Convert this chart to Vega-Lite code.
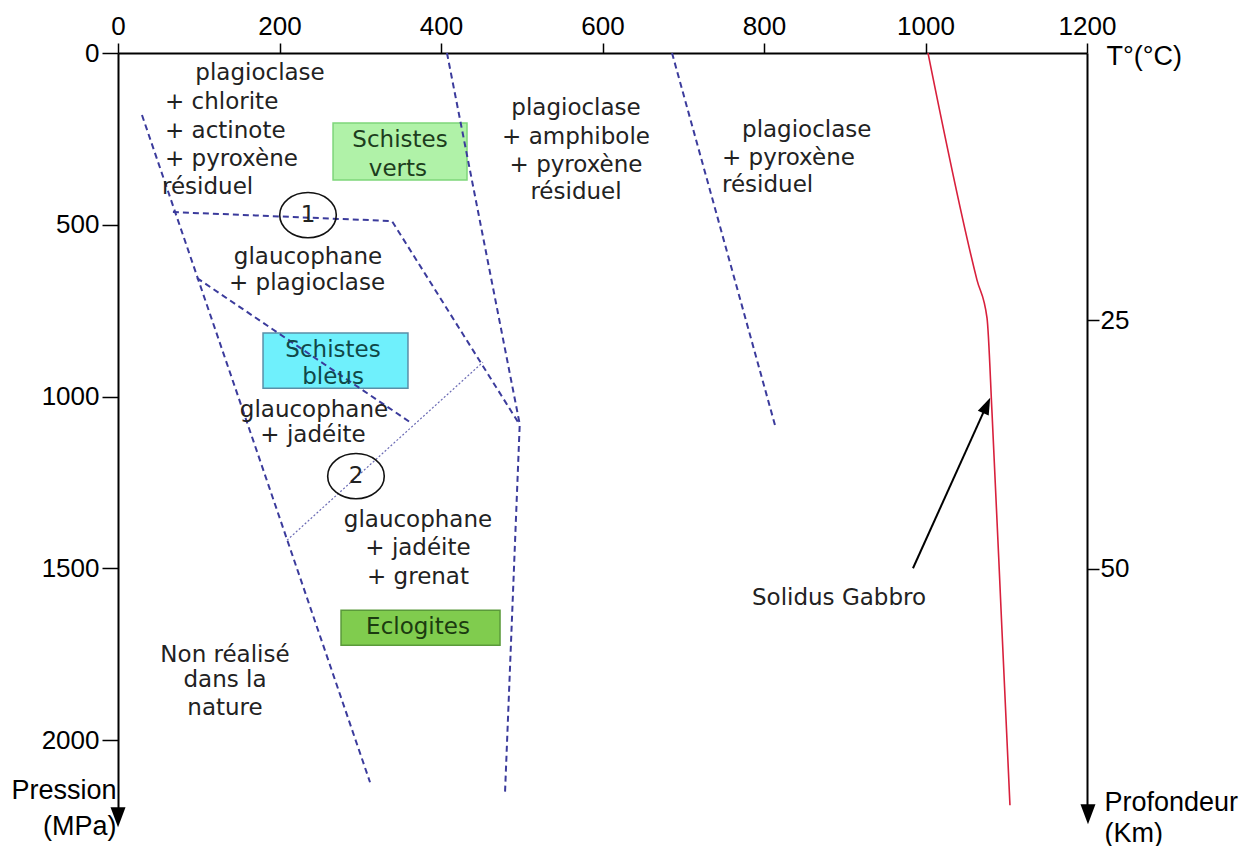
{
  "$schema": "https://vega.github.io/schema/vega-lite/v6.json",
  "width": 969,
  "height": 756,
  "autosize": "none",
  "padding": {"left": 118, "top": 53, "right": 162, "bottom": 37},
  "background": "white",
  "config": {"view": {"stroke": null}, "font": "DejaVu Sans"},
  "datasets": {
    "boxes": [
      {"name": "verts", "T1": 266.3, "T2": 432.2, "P1": 203.8, "P2": 369.7},
      {"name": "bleus", "T1": 179.6, "T2": 359.1, "P1": 815.1, "P2": 975.3},
      {"name": "eclo", "T1": 276.2, "T2": 473.1, "P1": 1621.5, "P2": 1723.4}
    ],
    "lines": [
      {"id": "L1", "o": 1, "T": 29.7, "P": 180.5},
      {"id": "L1", "o": 2, "T": 312.1, "P": 2122.3},
      {"id": "L2", "o": 1, "T": 68, "P": 462.9},
      {"id": "L2", "o": 2, "T": 339.3, "P": 489.1},
      {"id": "L2", "o": 3, "T": 497, "P": 1080},
      {"id": "L3", "o": 1, "T": 97.8, "P": 655},
      {"id": "L3", "o": 2, "T": 361.6, "P": 1074.2},
      {"id": "L4", "o": 1, "T": 209.3, "P": 1417.8},
      {"id": "L4", "o": 2, "T": 452, "P": 899.6},
      {"id": "L5", "o": 1, "T": 407.4, "P": 0},
      {"id": "L5", "o": 2, "T": 497.5, "P": 1080},
      {"id": "L5", "o": 3, "T": 479.3, "P": 2151.4},
      {"id": "L6", "o": 1, "T": 686.1, "P": 0},
      {"id": "L6", "o": 2, "T": 813.6, "P": 1083},
      {"id": "solidus", "o": 1, "T": 1003.1, "P": 0},
      {"id": "solidus", "o": 2, "T": 1063.8, "P": 660.8},
      {"id": "solidus", "o": 3, "T": 1076.2, "P": 771.5},
      {"id": "solidus", "o": 4, "T": 1082.4, "P": 1048},
      {"id": "solidus", "o": 5, "T": 1094.7, "P": 1679.8},
      {"id": "solidus", "o": 6, "T": 1104.6, "P": 2189.2},
      {"id": "arrow", "o": 1, "T": 984.5, "P": 1499.3},
      {"id": "arrow", "o": 2, "T": 1072.4, "P": 1042.2}
    ],
    "labels": [
      {"text": "plagioclase", "T": 175.9, "P": 58.2, "kind": "body", "align": "c"},
      {"text": "plagioclase", "T": 567.2, "P": 160.1, "kind": "body", "align": "c"},
      {"text": "+ amphibole", "T": 567.2, "P": 244.5, "kind": "body", "align": "c"},
      {"text": "+ pyroxène", "T": 567.2, "P": 326.1, "kind": "body", "align": "c"},
      {"text": "résiduel", "T": 567.2, "P": 404.7, "kind": "body", "align": "c"},
      {"text": "glaucophane", "T": 235.3, "P": 593.9, "kind": "body", "align": "c"},
      {"text": "+ plagioclase", "T": 234.1, "P": 669.6, "kind": "body", "align": "c"},
      {"text": "glaucophane", "T": 242.7, "P": 1039.3, "kind": "body", "align": "c"},
      {"text": "+ jadéite", "T": 241.5, "P": 1112.1, "kind": "body", "align": "c"},
      {"text": "glaucophane", "T": 371.5, "P": 1359.5, "kind": "body", "align": "c"},
      {"text": "+ jadéite", "T": 371.5, "P": 1441.0, "kind": "body", "align": "c"},
      {"text": "+ grenat", "T": 371.5, "P": 1525.5, "kind": "body", "align": "c"},
      {"text": "Non réalisé", "T": 132.5, "P": 1752.5, "kind": "body", "align": "c"},
      {"text": "dans la", "T": 132.5, "P": 1825.3, "kind": "body", "align": "c"},
      {"text": "nature", "T": 132.5, "P": 1906.8, "kind": "body", "align": "c"},
      {"text": "Solidus Gabbro", "T": 892.9, "P": 1586.6, "kind": "body", "align": "c"},
      {"text": "Schistes", "T": 349.2, "P": 253.3, "kind": "verts", "align": "c"},
      {"text": "verts", "T": 346.7, "P": 337.7, "kind": "verts", "align": "c"},
      {"text": "Schistes", "T": 266.3, "P": 864.6, "kind": "bleus", "align": "c"},
      {"text": "bleus", "T": 266.3, "P": 943.2, "kind": "bleus", "align": "c"},
      {"text": "Eclogites", "T": 371.5, "P": 1671.0, "kind": "eclo", "align": "c"},
      {"text": "1", "T": 235.3, "P": 471.6, "kind": "body", "align": "c"},
      {"text": "2", "T": 294.7, "P": 1231.4, "kind": "body", "align": "c"},
      {"text": "+ chlorite", "T": 58.2, "P": 142.6, "kind": "body", "align": "l"},
      {"text": "+ actinote", "T": 58.2, "P": 227.1, "kind": "body", "align": "l"},
      {"text": "+ pyroxène", "T": 58.2, "P": 308.6, "kind": "body", "align": "l"},
      {"text": "résiduel", "T": 54.5, "P": 390.1, "kind": "body", "align": "l"},
      {"text": "plagioclase", "T": 772.8, "P": 224.2, "kind": "body", "align": "l"},
      {"text": "+ pyroxène", "T": 748.0, "P": 305.7, "kind": "body", "align": "l"},
      {"text": "résiduel", "T": 748.0, "P": 384.3, "kind": "body", "align": "l"}
    ],
    "circles": [
      {"n": "1", "T": 235.3, "P": 471.6},
      {"n": "2", "T": 294.7, "P": 1231.4}
    ],
    "heads": [
      {"name": "axisLeft", "T": 0, "P": 2224.2},
      {"name": "axisRight", "T": 1201.2, "P": 2215.4},
      {"name": "solidus", "T": 1075.8, "P": 1025.6}
    ]
  },
  "layer": [
    {
      "data": {"name": "boxes"},
      "mark": {"type": "rect", "strokeWidth": 1.5},
      "encoding": {
        "x": {
          "field": "T1", "type": "quantitative", "scale": {"domain": [0, 1200], "nice": false, "zero": false},
          "axis": {
            "orient": "top", "values": [0, 200, 400, 600, 800, 1000, 1200], "format": "d", "grid": false,
            "domainColor": "black", "domainWidth": 2, "tickColor": "black", "tickWidth": 1.5, "tickSize": 10,
            "labelColor": "black", "labelFont": "Liberation Sans", "labelFontSize": 26, "labelPadding": 4,
            "labelFlush": false, "labelOverlap": false,
            "title": "T°(°C)", "titleFont": "Liberation Sans", "titleFontSize": 27, "titleFontWeight": "normal", "titleColor": "black",
            "titleAngle": 0, "titleAlign": "left", "titleBaseline": "alphabetic", "titleX": 988, "titleY": 11
          }
        },
        "x2": {"field": "T2"},
        "y": {
          "field": "P1", "type": "quantitative", "scale": {"domain": [0, 2200], "nice": false, "zero": false, "reverse": true},
          "axis": {
            "orient": "left", "values": [0, 500, 1000, 1500, 2000], "format": "d", "grid": false,
            "domainColor": "black", "domainWidth": 2, "tickColor": "black", "tickWidth": 1.5, "tickSize": 16,
            "labelColor": "black", "labelFont": "Liberation Sans", "labelFontSize": 26, "labelPadding": 3,
            "labelFlush": false, "labelOverlap": false,
            "title": ["Pression", "(MPa)"], "titleFont": "Liberation Sans", "titleFontSize": 27, "titleFontWeight": "normal", "titleColor": "black",
            "titleAngle": 0, "titleAlign": "right", "titleBaseline": "alphabetic", "titleX": -2, "titleY": 745, "titleLineHeight": 36
          }
        },
        "y2": {"field": "P2"},
        "fill": {"field": "name", "type": "nominal", "scale": {"domain": ["verts", "bleus", "eclo"], "range": ["#b0f2a8", "#6ff0fc", "#80cc4e"]}, "legend": null},
        "stroke": {"field": "name", "type": "nominal", "scale": {"domain": ["verts", "bleus", "eclo"], "range": ["#7ed67a", "#5a8fa8", "#5a9a3a"]}, "legend": null}
      }
    },
    {
      "data": {"name": "lines"},
      "transform": [{"filter": "indexof(['L1','L2','L3','L5','L6'], datum.id) >= 0"}],
      "mark": {"type": "line", "stroke": "#3b3b9c", "strokeWidth": 2, "strokeDash": [6, 4]},
      "encoding": {
        "x": {"field": "T", "type": "quantitative", "scale": {"domain": [0, 1200], "nice": false, "zero": false}, "axis": null},
        "y": {"field": "P", "type": "quantitative", "scale": {"domain": [0, 2200], "nice": false, "zero": false, "reverse": true}, "axis": null},
        "detail": {"field": "id"},
        "order": {"field": "o"}
      }
    },
    {
      "data": {"name": "lines"},
      "transform": [{"filter": "datum.id == 'L4'"}],
      "mark": {"type": "line", "stroke": "#6a6ab4", "strokeWidth": 1.2, "strokeDash": [2, 2]},
      "encoding": {
        "x": {"field": "T", "type": "quantitative", "scale": {"domain": [0, 1200], "nice": false, "zero": false}, "axis": null},
        "y": {"field": "P", "type": "quantitative", "scale": {"domain": [0, 2200], "nice": false, "zero": false, "reverse": true}, "axis": null},
        "order": {"field": "o"}
      }
    },
    {
      "data": {"name": "lines"},
      "transform": [{"filter": "datum.id == 'solidus'"}],
      "mark": {"type": "line", "stroke": "#d8203c", "strokeWidth": 1.6, "interpolate": "monotone"},
      "encoding": {
        "x": {"field": "T", "type": "quantitative", "scale": {"domain": [0, 1200], "nice": false, "zero": false}, "axis": null},
        "y": {"field": "P", "type": "quantitative", "scale": {"domain": [0, 2200], "nice": false, "zero": false, "reverse": true}, "axis": null},
        "order": {"field": "o"}
      }
    },
    {
      "data": {"name": "lines"},
      "transform": [{"filter": "datum.id == 'arrow'"}],
      "mark": {"type": "line", "stroke": "black", "strokeWidth": 2},
      "encoding": {
        "x": {"field": "T", "type": "quantitative", "scale": {"domain": [0, 1200], "nice": false, "zero": false}, "axis": null},
        "y": {"field": "P", "type": "quantitative", "scale": {"domain": [0, 2200], "nice": false, "zero": false, "reverse": true}, "axis": null},
        "order": {"field": "o"}
      }
    },
    {
      "data": {"name": "heads"},
      "transform": [{"filter": "datum.name != 'solidus'"}],
      "mark": {"type": "point", "shape": "M-0.75,-1L0.75,-1L0,1Z", "size": 400, "filled": true, "fill": "black", "opacity": 1, "strokeWidth": 0},
      "encoding": {
        "x": {"field": "T", "type": "quantitative", "scale": {"domain": [0, 1200], "nice": false, "zero": false}, "axis": null},
        "y": {"field": "P", "type": "quantitative", "scale": {"domain": [0, 2200], "nice": false, "zero": false, "reverse": true}, "axis": null}
      }
    },
    {
      "data": {"name": "heads"},
      "transform": [{"filter": "datum.name == 'solidus'"}],
      "mark": {"type": "point", "shape": "M0,-1L0.7,1L-0.7,1Z", "size": 289, "angle": 24, "filled": true, "fill": "black", "opacity": 1, "strokeWidth": 0},
      "encoding": {
        "x": {"field": "T", "type": "quantitative", "scale": {"domain": [0, 1200], "nice": false, "zero": false}, "axis": null},
        "y": {"field": "P", "type": "quantitative", "scale": {"domain": [0, 2200], "nice": false, "zero": false, "reverse": true}, "axis": null}
      }
    },
    {
      "data": {"name": "circles"},
      "mark": {"type": "point", "shape": "M-1,0A1,0.8,0,1,1,1,0A1,0.8,0,1,1,-1,0Z", "size": 3200, "filled": false, "stroke": "#111111", "strokeWidth": 1.6, "opacity": 1},
      "encoding": {
        "x": {"field": "T", "type": "quantitative", "scale": {"domain": [0, 1200], "nice": false, "zero": false}, "axis": null},
        "y": {"field": "P", "type": "quantitative", "scale": {"domain": [0, 2200], "nice": false, "zero": false, "reverse": true}, "axis": null}
      }
    },
    {
      "data": {"name": "labels"},
      "transform": [{"filter": "datum.align == 'c'"}],
      "mark": {"type": "text", "font": "DejaVu Sans", "fontSize": 23, "align": "center", "baseline": "middle"},
      "encoding": {
        "x": {"field": "T", "type": "quantitative", "scale": {"domain": [0, 1200], "nice": false, "zero": false}, "axis": null},
        "y": {"field": "P", "type": "quantitative", "scale": {"domain": [0, 2200], "nice": false, "zero": false, "reverse": true}, "axis": null},
        "text": {"field": "text", "type": "nominal"},
        "color": {"field": "kind", "type": "nominal", "scale": {"domain": ["body", "verts", "bleus", "eclo"], "range": ["#222222", "#1d3d1d", "#0f4848", "#1b3b10"]}, "legend": null}
      }
    },
    {
      "data": {"name": "labels"},
      "transform": [{"filter": "datum.align == 'l'"}],
      "mark": {"type": "text", "font": "DejaVu Sans", "fontSize": 23, "align": "left", "baseline": "middle", "color": "#222222"},
      "encoding": {
        "x": {"field": "T", "type": "quantitative", "scale": {"domain": [0, 1200], "nice": false, "zero": false}, "axis": null},
        "y": {"field": "P", "type": "quantitative", "scale": {"domain": [0, 2200], "nice": false, "zero": false, "reverse": true}, "axis": null},
        "text": {"field": "text", "type": "nominal"}
      }
    },
    {
      "data": {"values": [{"km": 25}, {"km": 50}]},
      "mark": {"type": "point", "opacity": 0},
      "encoding": {
        "y": {
          "field": "km", "type": "quantitative", "scale": {"domain": [-1.81, 74.1], "nice": false, "zero": false, "reverse": true},
          "axis": {
            "orient": "right", "values": [25, 50], "grid": false,
            "domainColor": "black", "domainWidth": 2, "tickColor": "black", "tickWidth": 1.5, "tickSize": 12,
            "labelColor": "black", "labelFont": "Liberation Sans", "labelFontSize": 26, "labelPadding": 1,
            "labelFlush": false, "labelOverlap": false,
            "title": ["Profondeur", "(Km)"], "titleFont": "Liberation Sans", "titleFontSize": 27, "titleFontWeight": "normal", "titleColor": "black",
            "titleAngle": 0, "titleAlign": "left", "titleBaseline": "alphabetic", "titleX": 17, "titleY": 757, "titleLineHeight": 31
          }
        }
      }
    }
  ],
  "resolve": {"scale": {"x": "independent", "y": "independent"}}
}
